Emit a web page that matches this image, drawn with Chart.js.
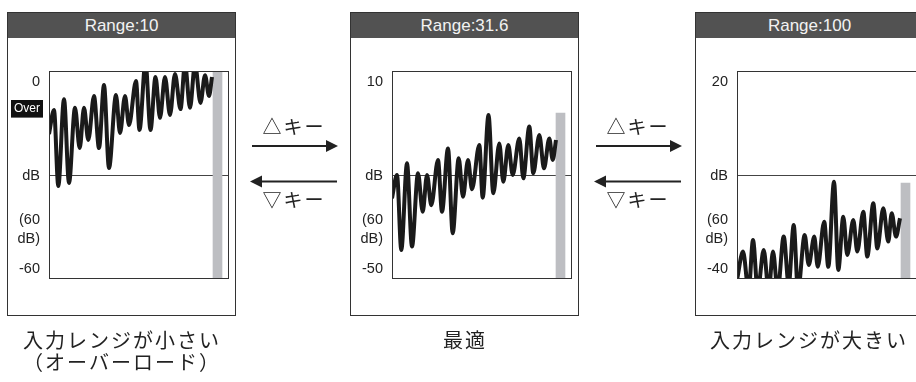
<!DOCTYPE html>
<html>
<head>
<meta charset="utf-8">
<script src="https://cdn.jsdelivr.net/npm/chart.js"></script>
<style>
    html, body { margin: 0; padding: 0; width: 916px; height: 382px; overflow: hidden; background: #fff; }
    .panel {
        position: absolute; top: 12px; width: 229px; height: 304px;
        box-sizing: border-box; border: 1px solid #333;
    }
    .panel .head {
        height: 25px; background: #525252; color: #f2f2f2;
        font: 17px "Liberation Sans", Arial, sans-serif;
        text-align: center; line-height: 25px;
    }
    canvas { position: absolute; }
    .jp {
        position: absolute; color: #222; white-space: nowrap;
        font-family: "Noto Sans CJK JP", sans-serif; text-align: center;
    }
    .key { font-size: 19px; letter-spacing: 2px; width: 100px; line-height: 22px; }
    .cap { font-size: 20px; letter-spacing: 2px; width: 240px; line-height: 24px; }
</style>
</head>
<body>
<div class="panel" style="left:7px"><div class="head">Range:10</div></div>
<div class="panel" style="left:350px"><div class="head">Range:31.6</div></div>
<div class="panel" style="left:695px"><div class="head">Range:100</div></div>

<canvas id="c1" width="229" height="279" style="left:7px;top:37px"></canvas>
<canvas id="c2" width="229" height="279" style="left:350px;top:37px"></canvas>
<canvas id="c3" width="229" height="279" style="left:695px;top:37px"></canvas>

<svg width="916" height="382" style="position:absolute;left:0;top:0">
    <g stroke="#222" stroke-width="2" fill="#222">
        <line x1="252" y1="146" x2="328" y2="146"/>
        <polygon points="338,146 326,140 326,152" stroke="none"/>
        <line x1="260" y1="181.5" x2="337" y2="181.5"/>
        <polygon points="250,181.5 262,175.5 262,187.5" stroke="none"/>
        <line x1="596" y1="146" x2="672" y2="146"/>
        <polygon points="682,146 670,140 670,152" stroke="none"/>
        <line x1="604" y1="181.5" x2="681" y2="181.5"/>
        <polygon points="594,181.5 606,175.5 606,187.5" stroke="none"/>
    </g>
</svg>
<div class="jp key" style="left:244px;top:115px">△キー</div>
<div class="jp key" style="left:244px;top:188px">▽キー</div>
<div class="jp key" style="left:588px;top:115px">△キー</div>
<div class="jp key" style="left:588px;top:188px">▽キー</div>

<div class="jp cap" style="left:2px;top:328px">入力レンジが小さい</div>
<div class="jp cap" style="left:2px;top:350px">（オーバーロード）</div>
<div class="jp cap" style="left:345px;top:328px">最適</div>
<div class="jp cap" style="left:689px;top:328px">入力レンジが大きい</div>

<script>
// waveform extrema (x: position along the plot, y: dB)
var wave1X = [0, 5, 9.3, 15, 20, 26, 30.7, 35, 39.3, 45, 50, 55, 60, 67, 71, 76, 80, 87, 90.5, 96.5, 101.5, 106.5, 111, 116, 121, 126, 131.5, 136, 141, 146, 151.5, 156, 160, 163];
var wave1Y = [-16.7, -9.0, -33.4, -5.5, -32.4, -8.3, -21.2, -8.3, -18.6, -4.5, -21.2, -1.0, -27.6, -4.2, -16.4, -4.5, -13.8, 0.3, -15.4, 6.4, -15.4, 1.6, -11.5, 1.6, -10.6, 2.6, -8.7, 5.8, -8.3, 5.8, -6.7, 2.2, -4.5, 1.6];

var wave2X = [0, 5, 9.3, 15, 20, 26, 30.7, 35, 39.3, 46, 50, 56, 60.7, 66.7, 71, 76, 80, 87.3, 90.7, 96.5, 101.3, 107.3, 111.3, 116.3, 120.7, 127.3, 131.3, 137.3, 141.3, 147.3, 152, 157.3, 160.7, 164];
var wave2Y = [-27.3, -19.8, -43.9, -16.1, -42.8, -19.3, -31.6, -19.8, -29.5, -15.0, -31.6, -11.3, -38.5, -14.5, -26.8, -15.0, -24.4, -10.2, -27.1, -0.6, -25.7, -9.7, -22.0, -10.2, -19.8, -8.1, -20.9, -4.3, -19.3, -7.0, -17.7, -8.1, -15.0, -8.6];

var wave3X = [0, 6, 11.7, 16, 20.7, 26.7, 31.7, 36, 40.7, 46.7, 51.7, 56.7, 61, 67.7, 71.7, 77.3, 80.7, 87.2, 91.3, 97, 101.3, 106.3, 110.3, 116.3, 120.3, 126.3, 130.3, 136.3, 140.3, 146.3, 151.3, 154.7, 159, 163];
var wave3Y = [-43.5, -34.4, -47, -30.7, -47, -33.9, -47, -34.4, -47, -29.6, -45, -25.9, -47, -29.1, -38.7, -29.6, -39.3, -24.8, -39.3, -12.0, -40.3, -23.2, -35.5, -24.3, -34.4, -21.6, -36.0, -18.9, -33.4, -20.5, -31.2, -22.1, -29.6, -23.7];

var topLevels = [0, 10, 20];      // top tick of each panel (dB)
var barLevels = [6, 0, -12.4];    // grey level bar top (dB)
var barPos = 168.5;

var framePlugin = {
    id: 'frame',
    afterDatasetsDraw: function (chart) {
        var a = chart.chartArea, ctx = chart.ctx;
        ctx.save();
        ctx.strokeStyle = '#333';
        ctx.lineWidth = 1;
        ctx.strokeRect(a.left + 0.5, a.top + 0.5, a.right - a.left - 1, a.bottom - a.top - 1);
        ctx.restore();
    }
};

function makePanel(id, xs, ys, top, barTop, showOver) {
    var tickVals = [top, top - 30, top - 47.2, top - 60];
    var tickText = [String(top), 'dB', ['(60', 'dB)'], String(top - 60)];
    if (showOver) {
        tickVals.splice(1, 0, top - 8.6);
        tickText.splice(1, 0, 'Over');
    }
    var overVal = top - 8.6;
    var yMin = top - 63.2, yMax = top + 3.53;

    var points = xs.map(function (x, i) { return { x: x, y: ys[i] }; });

    new Chart(document.getElementById(id), {
        type: 'line',
        data: {
            datasets: [{
                type: 'line',
                data: points,
                borderColor: '#1a1a1a',
                borderWidth: 4,
                pointRadius: 0,
                cubicInterpolationMode: 'monotone',
                clip: 0,
                order: 0
            }, {
                type: 'bar',
                data: [{ x: barPos, y: [yMin - 5, barTop] }],
                backgroundColor: '#bdbec2',
                barThickness: 9,
                clip: 0,
                order: 1
            }]
        },
        options: {
            responsive: false,
            animation: false,
            layout: { padding: { top: 34, bottom: 37, right: 7, left: 0 } },
            plugins: { legend: { display: false }, tooltip: { enabled: false } },
            scales: {
                x: { type: 'linear', min: 0, max: 180, display: false, offset: false },
                y: {
                    min: yMin, max: yMax,
                    afterBuildTicks: function (axis) {
                        axis.ticks = tickVals.map(function (v) { return { value: v }; });
                    },
                    afterFit: function (axis) { axis.width = 42; },
                    border: { display: false },
                    grid: {
                        drawTicks: false,
                        color: function (ctx) {
                            return ctx.tick && Math.abs(ctx.tick.value - (top - 30)) < 0.01 ? '#444' : 'rgba(0,0,0,0)';
                        },
                        lineWidth: 1
                    },
                    ticks: {
                        autoSkip: false,
                        padding: 9,
                        callback: function (v, i) { return tickText[i]; },
                        color: function (ctx) {
                            return showOver && Math.abs(ctx.tick.value - overVal) < 0.01 ? '#fff' : '#222';
                        },
                        font: function (ctx) {
                            var over = showOver && ctx.tick && Math.abs(ctx.tick.value - overVal) < 0.01;
                            return { family: '"Liberation Sans", Arial, sans-serif', size: over ? 12 : 14.5, lineHeight: 1.3 };
                        },
                        showLabelBackdrop: function (ctx) {
                            return showOver && Math.abs(ctx.tick.value - overVal) < 0.01;
                        },
                        backdropColor: '#111',
                        backdropPadding: { top: 1, bottom: 1, left: 3, right: 3 }
                    }
                }
            }
        },
        plugins: [framePlugin]
    });
}

makePanel('c1', wave1X, wave1Y, topLevels[0], barLevels[0], true);
makePanel('c2', wave2X, wave2Y, topLevels[1], barLevels[1], false);
makePanel('c3', wave3X, wave3Y, topLevels[2], barLevels[2], false);
</script>
</body>
</html>
